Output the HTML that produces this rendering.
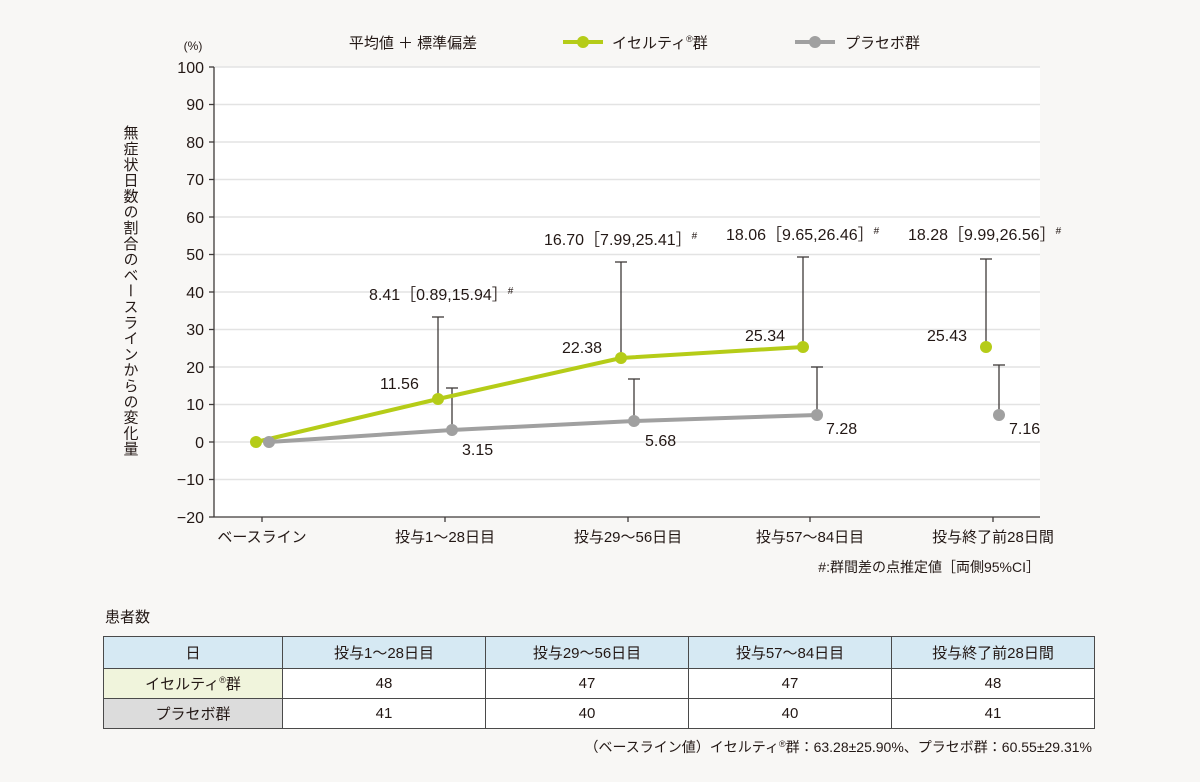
<!DOCTYPE html>
<html><head><meta charset="utf-8"><style>
body{margin:0;width:1200px;height:782px;background:#f8f7f5;font-family:"Liberation Sans","Noto Sans CJK JP",sans-serif;color:#231815;overflow:hidden}
svg text{font-family:"Liberation Sans","Noto Sans CJK JP",sans-serif;fill:#231815}
table{position:absolute;left:103px;top:636px;border-collapse:collapse;font-size:15px;table-layout:fixed;width:991px}
td{border:1.5px solid #4a4a4a;text-align:center;height:29px;padding:0}
</style></head><body>
<svg width="1200" height="782" style="position:absolute;left:0;top:0">
<rect x="214" y="67" width="826" height="450" fill="#fff"/>
<g stroke="#e3e3e3" stroke-width="1.5">
<line x1="214" x2="1040" y1="67" y2="67"/><line x1="214" x2="1040" y1="104.5" y2="104.5"/><line x1="214" x2="1040" y1="142" y2="142"/><line x1="214" x2="1040" y1="179.5" y2="179.5"/><line x1="214" x2="1040" y1="217" y2="217"/><line x1="214" x2="1040" y1="254.5" y2="254.5"/><line x1="214" x2="1040" y1="292" y2="292"/><line x1="214" x2="1040" y1="329.5" y2="329.5"/><line x1="214" x2="1040" y1="367" y2="367"/><line x1="214" x2="1040" y1="404.5" y2="404.5"/><line x1="214" x2="1040" y1="442" y2="442"/><line x1="214" x2="1040" y1="479.5" y2="479.5"/>
</g>
<g stroke="#3e3a39" stroke-width="1.3">
<line x1="214" y1="67" x2="214" y2="517"/><line x1="214" y1="517" x2="1040" y2="517"/>
<line x1="209" x2="214" y1="67" y2="67"/><line x1="209" x2="214" y1="104.5" y2="104.5"/><line x1="209" x2="214" y1="142" y2="142"/><line x1="209" x2="214" y1="179.5" y2="179.5"/><line x1="209" x2="214" y1="217" y2="217"/><line x1="209" x2="214" y1="254.5" y2="254.5"/><line x1="209" x2="214" y1="292" y2="292"/><line x1="209" x2="214" y1="329.5" y2="329.5"/><line x1="209" x2="214" y1="367" y2="367"/><line x1="209" x2="214" y1="404.5" y2="404.5"/><line x1="209" x2="214" y1="442" y2="442"/><line x1="209" x2="214" y1="479.5" y2="479.5"/><line x1="209" x2="214" y1="517" y2="517"/>
<line x1="262" x2="262" y1="517" y2="522"/><line x1="445" x2="445" y1="517" y2="522"/><line x1="628" x2="628" y1="517" y2="522"/><line x1="810" x2="810" y1="517" y2="522"/><line x1="993" x2="993" y1="517" y2="522"/>
</g>
<g font-size="16" text-anchor="end">
<text x="204" y="73">100</text><text x="204" y="110">90</text><text x="204" y="148">80</text><text x="204" y="185">70</text><text x="204" y="223">60</text><text x="204" y="260">50</text><text x="204" y="298">40</text><text x="204" y="335">30</text><text x="204" y="373">20</text><text x="204" y="410">10</text><text x="204" y="448">0</text><text x="204" y="485">−10</text><text x="204" y="523">−20</text>
</g>
<text x="193" y="50" font-size="12" text-anchor="middle">(%)</text>
<text x="130" y="125" font-size="15" style="writing-mode:vertical-rl;letter-spacing:0.8px">無症状日数の割合のベースラインからの変化量</text>
<g font-size="15" text-anchor="middle">
<text x="262" y="542">ベースライン</text><text x="445" y="542">投与1～28日目</text><text x="628" y="542">投与29～56日目</text><text x="810" y="542">投与57～84日目</text><text x="993" y="542">投与終了前28日間</text>
</g>
<text x="1040" y="572" font-size="14" text-anchor="end">#:群間差の点推定値［両側95%CI］</text>
<text x="413" y="48" font-size="15" text-anchor="middle">平均値 ＋ 標準偏差</text>
<line x1="563" x2="603" y1="42" y2="42" stroke="#b5cc18" stroke-width="4"/><circle cx="583" cy="42" r="6" fill="#b5cc18"/>
<text x="612" y="48" font-size="15">イセルティ<tspan font-size="9" dy="-6">®</tspan><tspan dy="6">群</tspan></text>
<line x1="795" x2="835" y1="42" y2="42" stroke="#a0a0a0" stroke-width="4"/><circle cx="815" cy="42" r="6" fill="#a0a0a0"/>
<text x="845" y="48" font-size="15">プラセボ群</text>
<g stroke="#3e3a39" stroke-width="1.3">
<line x1="438" x2="438" y1="399" y2="317"/><line x1="432" x2="444" y1="317" y2="317"/>
<line x1="452" x2="452" y1="430" y2="388"/><line x1="446" x2="458" y1="388" y2="388"/>
<line x1="621" x2="621" y1="358" y2="262"/><line x1="615" x2="627" y1="262" y2="262"/>
<line x1="634" x2="634" y1="421" y2="379"/><line x1="628" x2="640" y1="379" y2="379"/>
<line x1="803" x2="803" y1="347" y2="257"/><line x1="797" x2="809" y1="257" y2="257"/>
<line x1="817" x2="817" y1="415" y2="367"/><line x1="811" x2="823" y1="367" y2="367"/>
<line x1="986" x2="986" y1="347" y2="259"/><line x1="980" x2="992" y1="259" y2="259"/>
<line x1="999" x2="999" y1="415" y2="365"/><line x1="993" x2="1005" y1="365" y2="365"/>
</g>
<polyline points="269,442 452,430 634,421 817,415" fill="none" stroke="#a0a0a0" stroke-width="4"/>
<polyline points="256,442 438,399 621,358 803,347" fill="none" stroke="#b5cc18" stroke-width="4"/>
<g fill="#a0a0a0"><circle cx="269" cy="442" r="6"/><circle cx="452" cy="430" r="6"/><circle cx="634" cy="421" r="6"/><circle cx="817" cy="415" r="6"/><circle cx="999" cy="415" r="6"/></g>
<g fill="#b5cc18"><circle cx="256" cy="442" r="6"/><circle cx="438" cy="399" r="6"/><circle cx="621" cy="358" r="6"/><circle cx="803" cy="347" r="6"/><circle cx="986" cy="347" r="6"/></g>
<g font-size="16">
<text x="380" y="389">11.56</text><text x="562" y="353">22.38</text><text x="745" y="341">25.34</text><text x="927" y="341">25.43</text>
<text x="462" y="455">3.15</text><text x="645" y="446">5.68</text><text x="826" y="434">7.28</text><text x="1009" y="434">7.16</text>
<text x="369" y="300">8.41［0.89,15.94］<tspan font-size="10" dy="-6">#</tspan></text>
<text x="544" y="245">16.70［7.99,25.41］<tspan font-size="10" dy="-6">#</tspan></text>
<text x="726" y="240">18.06［9.65,26.46］<tspan font-size="10" dy="-6">#</tspan></text>
<text x="908" y="240">18.28［9.99,26.56］<tspan font-size="10" dy="-6">#</tspan></text>
</g>
<text x="105" y="622" font-size="15">患者数</text>
<text x="1092" y="752" font-size="14" text-anchor="end">（ベースライン値）イセルティ<tspan font-size="9" dy="-5">®</tspan><tspan dy="5">群：63.28±25.90%、プラセボ群：60.55±29.31%</tspan></text>
</svg>
<table>
<colgroup><col style="width:179px"><col style="width:203px"><col style="width:203px"><col style="width:203px"><col style="width:203px"></colgroup>
<tr style="background:#d6e9f3"><td style="height:31px">日</td><td>投与1～28日目</td><td>投与29～56日目</td><td>投与57～84日目</td><td>投与終了前28日間</td></tr>
<tr><td style="background:#f0f4dc">イセルティ<sup style="font-size:9px">®</sup>群</td><td style="background:#fff">48</td><td style="background:#fff">47</td><td style="background:#fff">47</td><td style="background:#fff">48</td></tr>
<tr><td style="background:#dcdcdc">プラセボ群</td><td style="background:#fff">41</td><td style="background:#fff">40</td><td style="background:#fff">40</td><td style="background:#fff">41</td></tr>
</table>
</body></html>
